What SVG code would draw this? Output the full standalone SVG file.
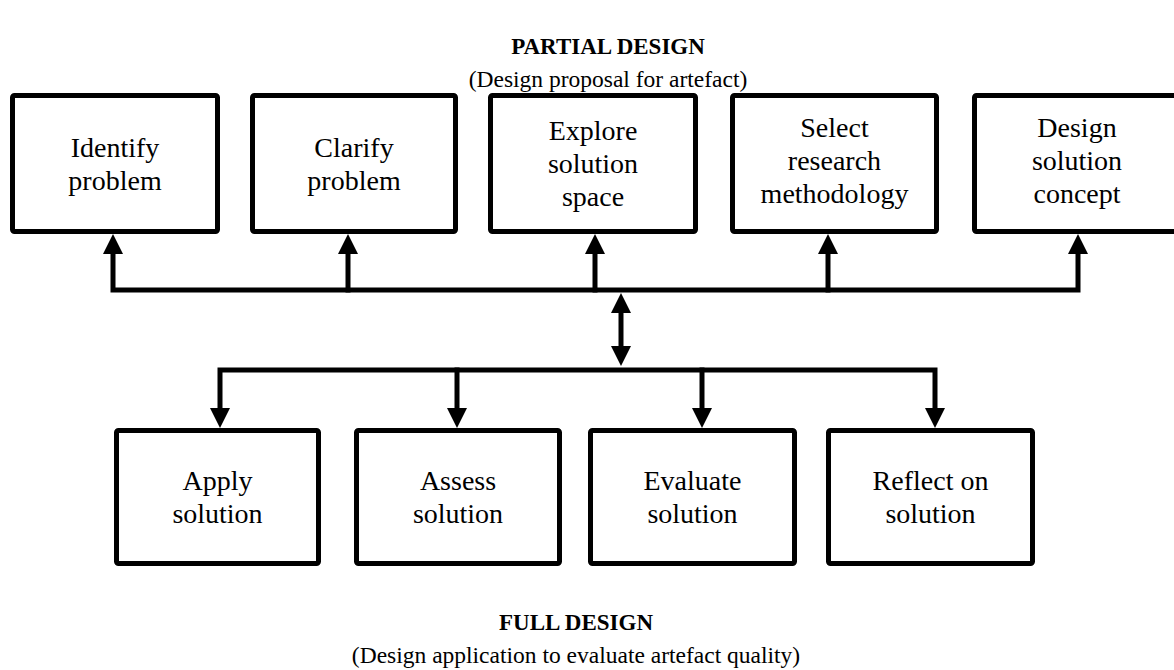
<svg xmlns="http://www.w3.org/2000/svg" width="1174" height="670" viewBox="0 0 1174 670">
  <style>
    .box { fill: #ffffff; stroke: #000000; stroke-width: 5; }
    .wire { fill: none; stroke: #000000; stroke-width: 5; stroke-linejoin: miter; stroke-linecap: square; }
    .head { fill: #000000; stroke: none; }
    .label { font-family: "Liberation Serif", "Times New Roman", serif; font-size: 28px; fill: #000000; text-anchor: middle; }
    .title { font-family: "Liberation Serif", "Times New Roman", serif; font-size: 23px; font-weight: bold; fill: #000000; text-anchor: middle; }
    .subtitle { font-family: "Liberation Serif", "Times New Roman", serif; font-size: 23.5px; fill: #000000; text-anchor: middle; }
  </style>

  <rect width="1174" height="670" fill="#ffffff"/>

  <!-- headings -->
  <g id="heading-partial">
    <text class="title" x="608" y="54">PARTIAL DESIGN</text>
    <text class="subtitle" x="608" y="87">(Design proposal for artefact)</text>
  </g>
  <g id="heading-full">
    <text class="title" x="576" y="630">FULL DESIGN</text>
    <text class="subtitle" x="576" y="663">(Design application to evaluate artefact quality)</text>
  </g>

  <!-- partial design stages -->
  <g id="identify-problem">
    <rect class="box" x="12.5" y="95.5" width="205" height="136" rx="2"/>
    <text class="label" x="115" y="157">Identify</text>
    <text class="label" x="115" y="190">problem</text>
  </g>
  <g id="clarify-problem">
    <rect class="box" x="252.5" y="95.5" width="203" height="136" rx="2"/>
    <text class="label" x="354" y="157">Clarify</text>
    <text class="label" x="354" y="190">problem</text>
  </g>
  <g id="explore-solution-space">
    <rect class="box" x="490.5" y="95.5" width="205" height="136" rx="2"/>
    <text class="label" x="593" y="140">Explore</text>
    <text class="label" x="593" y="173">solution</text>
    <text class="label" x="593" y="206">space</text>
  </g>
  <g id="select-research-methodology">
    <rect class="box" x="732.5" y="95.5" width="204" height="136" rx="2"/>
    <text class="label" x="834.5" y="137">Select</text>
    <text class="label" x="834.5" y="170">research</text>
    <text class="label" x="834.5" y="203">methodology</text>
  </g>
  <g id="design-solution-concept">
    <rect class="box" x="974.5" y="95.5" width="205" height="136" rx="2"/>
    <text class="label" x="1077" y="137">Design</text>
    <text class="label" x="1077" y="170">solution</text>
    <text class="label" x="1077" y="203">concept</text>
  </g>

  <!-- full design stages -->
  <g id="apply-solution">
    <rect class="box" x="116.5" y="430.5" width="202" height="133" rx="2"/>
    <text class="label" x="217.5" y="490">Apply</text>
    <text class="label" x="217.5" y="523">solution</text>
  </g>
  <g id="assess-solution">
    <rect class="box" x="356.5" y="430.5" width="203" height="133" rx="2"/>
    <text class="label" x="458" y="490">Assess</text>
    <text class="label" x="458" y="523">solution</text>
  </g>
  <g id="evaluate-solution">
    <rect class="box" x="590.5" y="430.5" width="204" height="133" rx="2"/>
    <text class="label" x="692.5" y="490">Evaluate</text>
    <text class="label" x="692.5" y="523">solution</text>
  </g>
  <g id="reflect-on-solution">
    <rect class="box" x="828.5" y="430.5" width="204" height="133" rx="2"/>
    <text class="label" x="930.5" y="490">Reflect on</text>
    <text class="label" x="930.5" y="523">solution</text>
  </g>

  <!-- connectors -->
  <g id="connectors">
    <!-- upper bus feeding the partial design stages -->
    <path class="wire" d="M113,254 V290 H1078 V254"/>
    <path class="wire" d="M348,290 V254"/>
    <path class="wire" d="M595,290 V254"/>
    <path class="wire" d="M828,290 V254"/>
    <polygon class="head" points="113,234 103,254 123,254"/>
    <polygon class="head" points="348,234 338,254 358,254"/>
    <polygon class="head" points="595,234 585,254 605,254"/>
    <polygon class="head" points="828,234 818,254 838,254"/>
    <polygon class="head" points="1078,234 1068,254 1088,254"/>

    <!-- two-way link between the buses -->
    <path class="wire" d="M621,312 V347" stroke-linecap="butt"/>
    <polygon class="head" points="621,293 611,313 631,313"/>
    <polygon class="head" points="621,366 611,346 631,346"/>

    <!-- lower bus feeding the full design stages -->
    <path class="wire" d="M220,408 V370 H935 V408"/>
    <path class="wire" d="M457,370 V408"/>
    <path class="wire" d="M702,370 V408"/>
    <polygon class="head" points="220,428 210,408 230,408"/>
    <polygon class="head" points="457,428 447,408 467,408"/>
    <polygon class="head" points="702,428 692,408 712,408"/>
    <polygon class="head" points="935,428 925,408 945,408"/>
  </g>
</svg>
